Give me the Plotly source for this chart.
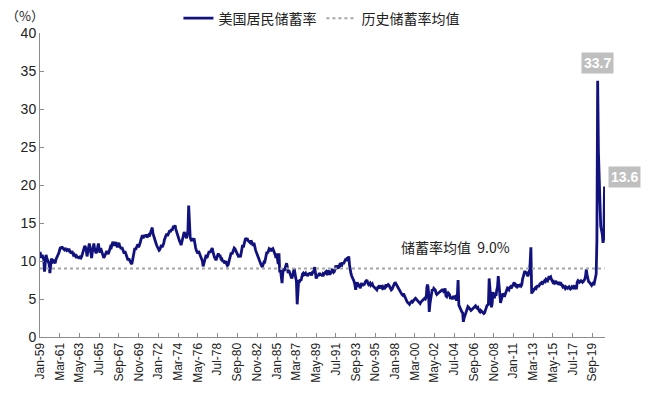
import pandas as pd
import plotly.graph_objects as go

# US personal saving rate (%), monthly
sr_1950s = [
    11.2, 10.6, 10.4, 10.8, 10.6, 10.2, 8.6, 9.7, 10.8, 10.4, 10.2, 9.9,   # 1959
]
sr_1960s = [
    9.6, 8.4, 9.2, 10.3, 10.1, 9.9, 10.0, 9.8, 9.7, 10.2, 10.4, 10.5,      # 1960
    10.8, 11.1, 11.5, 11.8, 11.6, 11.9, 11.7, 11.6, 11.5, 11.7, 11.6, 11.4,  # 1961
    11.5, 11.4, 11.6, 11.3, 11.2, 11.0, 11.3, 11.1, 10.8, 10.9, 10.7, 10.6,  # 1962
    10.7, 10.5, 10.4, 10.6, 10.3, 10.5, 10.4, 10.6, 10.9, 11.3, 11.6, 12.0,  # 1963
    11.8, 11.4, 10.6, 11.2, 11.5, 12.3, 11.8, 11.0, 10.4, 11.2, 12.0, 12.3,  # 1964
    11.6, 11.2, 11.0, 11.3, 11.8, 12.3, 11.6, 11.1, 11.7, 11.4, 10.8, 10.6,  # 1965
    10.4, 10.6, 10.8, 11.2, 11.3, 11.1, 10.9, 11.2, 11.5, 11.9, 11.8, 12.2,  # 1966
    12.5, 12.3, 12.0, 12.3, 12.5, 12.1, 11.8, 12.2, 12.4, 12.0, 11.7, 11.6,  # 1967
    11.8, 11.5, 11.2, 11.0, 11.3, 11.0, 10.6, 10.3, 10.1, 10.3, 10.0, 9.8,   # 1968
    9.7, 9.6, 10.2, 10.8, 11.3, 11.7, 11.5, 11.8, 11.9, 12.2, 11.8, 12.0,   # 1969
]
sr_1970s = [
    12.4, 12.8, 13.1, 13.4, 13.0, 13.3, 13.4, 13.2, 13.5, 13.1, 13.3, 13.4,  # 1970
    13.2, 13.5, 13.8, 14.0, 14.4, 13.6, 13.2, 13.0, 12.6, 12.3, 12.0, 11.8,  # 1971
    11.6, 11.4, 11.5, 11.9, 12.1, 11.8, 12.0, 12.3, 12.8, 13.2, 13.4, 13.6,  # 1972
    13.3, 13.6, 13.9, 14.0, 13.8, 14.2, 14.0, 14.3, 14.6, 14.4, 14.7, 14.2,  # 1973
    13.8, 13.5, 13.2, 12.9, 12.6, 12.4, 12.1, 12.5, 12.9, 13.5, 13.8, 13.6,  # 1974
    13.2, 13.0, 13.4, 14.0, 17.3, 14.6, 13.1, 12.8, 12.6, 13.0, 12.7, 13.0,  # 1975
    12.1, 11.8, 11.4, 11.2, 11.0, 11.3, 11.0, 10.8, 10.6, 10.3, 10.0, 9.3,   # 1976
    9.8, 10.2, 10.5, 10.8, 10.4, 10.7, 11.0, 11.3, 11.1, 11.4, 11.6, 11.7,  # 1977
    11.2, 10.6, 10.5, 10.3, 10.1, 10.4, 10.8, 11.0, 10.6, 10.8, 10.5, 10.1,  # 1978
    10.2, 9.9, 10.1, 9.7, 9.8, 10.0, 9.6, 9.4, 9.5, 10.0, 10.4, 10.8,       # 1979
]
sr_1980s = [
    11.1, 10.9, 11.2, 11.5, 11.7, 11.6, 11.4, 11.2, 11.0, 10.7, 10.5, 10.8,  # 1980
    10.5, 11.0, 11.4, 12.1, 11.8, 12.4, 12.6, 13.0, 12.8, 13.0, 12.7, 12.6,  # 1981
    12.5, 12.7, 12.4, 12.5, 12.3, 12.0, 12.4, 11.7, 11.5, 11.2, 10.9, 10.5,  # 1982
    10.5, 10.2, 9.8, 9.6, 9.4, 9.2, 9.5, 9.8, 9.7, 10.3, 10.9, 11.2,        # 1983
    11.0, 11.4, 11.6, 11.5, 11.3, 11.7, 11.5, 11.6, 11.4, 11.2, 10.8, 10.4,  # 1984
    11.0, 10.2, 9.6, 11.0, 8.5, 8.8, 8.0, 7.1, 8.4, 9.0, 8.7, 9.1,          # 1985
    9.4, 9.7, 9.2, 8.4, 8.8, 8.6, 8.2, 7.9, 7.7, 8.1, 8.6, 9.0,             # 1986
    8.4, 7.6, 7.3, 4.3, 7.2, 7.5, 7.2, 7.6, 7.4, 8.0, 8.3, 8.4,             # 1987
    8.2, 8.3, 8.4, 8.1, 8.3, 8.0, 8.4, 8.2, 8.5, 8.3, 8.1, 8.6,             # 1988
    8.4, 8.8, 9.2, 8.5, 7.7, 7.9, 8.2, 8.0, 8.4, 8.3, 8.1, 8.3,             # 1989
]
sr_1990s = [
    8.0, 8.3, 8.2, 8.4, 8.5, 8.6, 8.3, 8.2, 8.8, 8.5, 8.2, 8.4,             # 1990
    8.6, 8.8, 8.7, 8.5, 8.6, 8.9, 9.4, 9.1, 9.2, 9.0, 9.3, 9.5,             # 1991
    9.4, 9.6, 9.5, 9.8, 9.6, 9.9, 10.1, 10.3, 10.0, 10.5, 10.2, 10.6,       # 1992
    9.4, 8.6, 8.3, 8.0, 7.8, 7.5, 7.3, 6.9, 6.2, 6.8, 7.2, 6.9,             # 1993
    6.6, 7.0, 6.4, 6.8, 7.1, 6.7, 7.0, 6.8, 7.2, 7.3, 7.4, 7.5,             # 1994
    7.1, 6.9, 7.0, 7.1, 6.8, 6.9, 7.0, 6.7, 6.6, 6.5, 6.4, 6.2,             # 1995
    6.2, 6.5, 6.6, 6.4, 6.6, 6.8, 6.5, 6.4, 6.6, 6.5, 6.3, 6.6,             # 1996
    6.9, 6.7, 6.8, 6.9, 6.8, 6.6, 6.4, 6.2, 6.3, 6.6, 6.7, 7.0,             # 1997
    7.2, 7.0, 6.9, 6.6, 6.5, 6.3, 6.2, 6.0, 5.8, 5.6, 5.5, 5.7,             # 1998
    5.5, 5.2, 5.0, 4.7, 4.6, 4.5, 4.4, 4.3, 4.5, 4.6, 4.7, 4.6,             # 1999
]
sr_2000s = [
    4.8, 4.9, 5.0, 5.1, 5.0, 4.9, 4.7, 4.6, 4.5, 4.4, 4.6, 4.7,             # 2000
    4.8, 5.0, 5.0, 5.1, 5.0, 5.2, 6.6, 6.9, 6.0, 3.3, 4.4, 5.1,             # 2001
    6.2, 6.3, 6.1, 6.4, 6.3, 6.2, 5.8, 5.6, 5.7, 5.8, 5.9, 6.0,             # 2002
    6.0, 6.1, 6.2, 6.2, 6.0, 6.1, 6.4, 5.4, 5.3, 5.6, 5.8, 5.7,             # 2003
    5.5, 5.0, 5.3, 5.1, 5.0, 5.4, 5.2, 5.3, 5.0, 4.8, 5.4, 7.5,             # 2004
    4.2, 3.9, 3.7, 3.5, 3.3, 3.2, 2.0, 2.5, 2.8, 3.0, 3.3, 3.6,             # 2005
    4.0, 3.9, 3.8, 3.6, 3.5, 3.6, 3.7, 3.8, 3.9, 4.0, 4.1, 3.9,             # 2006
    3.8, 3.9, 3.6, 3.4, 3.3, 3.5, 3.4, 3.3, 3.2, 3.1, 3.2, 3.4,             # 2007
    3.8, 4.1, 4.2, 4.3, 7.7, 6.5, 5.0, 3.9, 4.5, 5.9, 5.6, 5.1,             # 2008
    5.8, 5.4, 6.2, 6.6, 8.0, 6.5, 5.6, 4.5, 4.9, 5.2, 5.7, 5.6,             # 2009
]
sr_2010s = [
    5.3, 5.6, 5.8, 6.2, 6.4, 6.3, 6.2, 6.5, 6.6, 6.4, 6.6, 6.8,             # 2010
    7.0, 7.2, 6.8, 6.7, 6.8, 6.6, 6.7, 6.9, 6.6, 6.8, 6.7, 6.9,             # 2011
    7.6, 8.1, 8.5, 8.7, 8.4, 8.6, 8.2, 8.0, 8.3, 8.6, 9.8, 11.8,            # 2012
    5.7, 6.0, 6.4, 6.2, 6.3, 6.5, 6.4, 6.6, 6.8, 6.6, 6.9, 7.0,             # 2013
    7.0, 7.2, 7.3, 7.1, 7.2, 7.4, 7.3, 7.6, 7.5, 7.4, 7.7, 8.0,             # 2014
    7.8, 7.9, 7.6, 7.4, 7.2, 7.3, 7.1, 7.2, 7.0, 7.2, 7.1, 7.0,             # 2015
    7.1, 7.0, 7.2, 7.0, 6.8, 6.6, 6.7, 6.5, 6.4, 6.6, 6.5, 6.4,             # 2016
    6.5, 6.6, 6.4, 6.3, 6.4, 6.6, 6.5, 6.6, 6.3, 6.8, 6.5, 6.3,             # 2017
    7.2, 7.4, 7.3, 7.2, 7.3, 7.4, 7.3, 7.2, 7.3, 7.4, 7.6, 8.0,             # 2018
    8.9, 8.2, 7.6, 7.3, 7.2, 7.0, 6.9, 6.8, 7.0, 7.1, 6.8, 7.2,             # 2019
]
sr_2020s = [
    7.6, 8.3, 12.8, 33.7, 24.4, 19.0, 17.8, 14.6, 14.1, 13.6, 12.4, 13.0,  # 2020
    19.8,                                                                  # 2021
]

saving_rate = sr_1950s + sr_1960s + sr_1970s + sr_1980s + sr_1990s + sr_2000s + sr_2010s + sr_2020s
months = pd.date_range("1959-01-01", periods=len(saving_rate), freq="MS")

mean_rate = 9.0
peak_label = "33.7"
last_label = "13.6"
mean_text = "储蓄率均值  9.0%"
series_name = "美国居民储蓄率"
mean_name = "历史储蓄率均值"

# tick labels every 26 months
tick_dates = months[::26]
tick_text = [d.strftime("%b-%y") for d in tick_dates]

FONT = "Liberation Sans, Arial, sans-serif"
CJK = "Noto Sans CJK SC, sans-serif"
line_color = "#12127f"

fig = go.Figure()
fig.add_trace(go.Scatter(
    x=months, y=saving_rate, mode="lines", name=series_name,
    line=dict(color=line_color, width=2.8),
))
fig.add_trace(go.Scatter(
    x=[months[0], months[-1]], y=[mean_rate, mean_rate], mode="lines", name=mean_name,
    line=dict(color="#a6a6a6", width=2, dash="dot"),
))

peak_idx = saving_rate.index(max(saving_rate))
fig.add_annotation(x=months[peak_idx], y=saving_rate[peak_idx], text="<b>" + peak_label + "</b>",
                   showarrow=False, yshift=18, bgcolor="#bfbfbf",
                   font=dict(color="white", size=14, family=FONT), borderpad=2)
fig.add_annotation(x=months[-1], y=saving_rate[-1], text="<b>" + last_label + "</b>",
                   showarrow=False, xshift=20, yshift=10, bgcolor="#bfbfbf",
                   font=dict(color="white", size=14, family=FONT), borderpad=2)
fig.add_annotation(x=pd.Timestamp("2004-08-01"), y=11.9, text=mean_text, showarrow=False,
                   font=dict(color="#222", size=14, family=CJK))
fig.add_annotation(x=-0.027, y=1.056, xref="paper", yref="paper", text="（%）",
                   xanchor="center", yanchor="middle",
                   showarrow=False, font=dict(color="#222", size=13, family=CJK))

fig.update_layout(
    width=652, height=400,
    margin=dict(l=40, r=47, t=33, b=63, autoexpand=False),
    plot_bgcolor="white", paper_bgcolor="white",
    showlegend=True,
    legend=dict(orientation="h", x=0.245, y=1.1, xanchor="left", yanchor="top",
                font=dict(size=14, family=CJK, color="#222"),
                bgcolor="rgba(0,0,0,0)"),
)
fig.update_xaxes(
    type="date", range=[pd.Timestamp("1959-01-01"), pd.Timestamp("2021-01-20")],
    tickvals=tick_dates, ticktext=tick_text, tickangle=-90,
    tickfont=dict(size=12, family=FONT, color="#222"),
    showline=True, linecolor="#8c8c8c", linewidth=1,
    ticks="inside", ticklen=4, tickcolor="#8c8c8c",
    showgrid=False, zeroline=False,
)
fig.update_yaxes(
    range=[0, 40], tickvals=[0, 5, 10, 15, 20, 25, 30, 35, 40],
    tickfont=dict(size=14, family=FONT, color="#222"),
    showline=True, linecolor="#8c8c8c", linewidth=1,
    ticks="inside", ticklen=4, tickcolor="#8c8c8c",
    showgrid=False, zeroline=False,
)

fig.write_html("out.html")
